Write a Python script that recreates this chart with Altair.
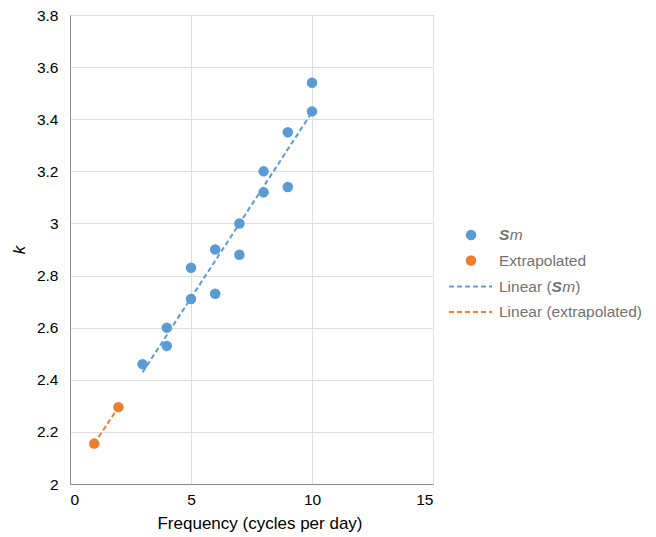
import altair as alt
import pandas as pd

# Data
sm_x = [3, 4, 4, 5, 5, 6, 6, 7, 7, 8, 8, 9, 9, 10, 10]
sm_k = [2.46, 2.60, 2.53, 2.83, 2.71, 2.90, 2.73, 3.00, 2.88, 3.20, 3.12, 3.35, 3.14, 3.54, 3.43]
ex_x = [1, 2]
ex_k = [2.155, 2.295]

x_ticks = [0, 5, 10, 15]
y_ticks = [2, 2.2, 2.4, 2.6, 2.8, 3, 3.2, 3.4, 3.6, 3.8]

BLUE = "#5b9bd5"
ORANGE = "#ed7d31"
GRAY = "#727272"
GRID = "#d9d9d9"
FONT = "Liberation Sans"

sm_df = pd.DataFrame({"x": sm_x, "k": sm_k})
ex_df = pd.DataFrame({"x": ex_x, "k": ex_k})

xs = alt.Scale(domain=[0, 15], nice=False, zero=False)
ys = alt.Scale(domain=[2, 3.8], nice=False, zero=False)

x_axis = alt.Axis(values=x_ticks, title="Frequency (cycles per day)", grid=True,
                  labelFontSize=15.5, titleFontSize=17, titleFontWeight="normal",
                  labelPadding=8, titlePadding=8, ticks=False,
                  titleX=189.5, titleAlign="center")
y_axis = alt.Axis(values=y_ticks, title="k", grid=True, labelFontSize=15.5,
                  titleFontSize=17, titleFontStyle="italic", titleFontWeight="normal",
                  labelPadding=12, titlePadding=8, ticks=False,
                  labelExpr="format(datum.value, '.1~f')")

X = alt.X("x:Q", scale=xs, axis=x_axis)
Y = alt.Y("k:Q", scale=ys, axis=y_axis)

sm_line = alt.Chart(sm_df).transform_regression("x", "k", extent=[3, 10]).mark_line(
    color=BLUE, strokeWidth=2, strokeDash=[5, 3]).encode(x=X, y=Y)
ex_line = alt.Chart(ex_df).transform_regression("x", "k", extent=[1, 2]).mark_line(
    color=ORANGE, strokeWidth=2, strokeDash=[5, 3]).encode(x=X, y=Y)
sm_pts = alt.Chart(sm_df).mark_circle(size=110, color=BLUE, opacity=1).encode(x=X, y=Y)
ex_pts = alt.Chart(ex_df).mark_circle(size=110, color=ORANGE, opacity=1).encode(x=X, y=Y)

# Custom legend (plot-area pixel coordinates; plot origin at 70px, 15px)
one = pd.DataFrame({"a": [0]})
L = 70
T = 15
FS = 15.5
def txt(s, x, y, style="normal", weight="normal"):
    return alt.Chart(one).mark_text(text=s, align="left", baseline="middle", fontSize=FS,
                                    font=FONT, color=GRAY, fontStyle=style,
                                    fontWeight=weight).encode(x=alt.value(x - L), y=alt.value(y - T))

leg = [
    alt.Chart(one).mark_circle(size=110, color=BLUE, opacity=1).encode(
        x=alt.value(471 - L), y=alt.value(235 - T)),
    alt.Chart(one).mark_circle(size=110, color=ORANGE, opacity=1).encode(
        x=alt.value(471 - L), y=alt.value(260.5 - T)),
    alt.Chart(one).mark_rule(color=BLUE, strokeWidth=2, strokeDash=[5, 3]).encode(
        x=alt.value(449 - L), x2=alt.value(492 - L), y=alt.value(286.5 - T)),
    alt.Chart(one).mark_rule(color=ORANGE, strokeWidth=2, strokeDash=[5, 3]).encode(
        x=alt.value(449 - L), x2=alt.value(492 - L), y=alt.value(312 - T)),
    txt("S", 499, 235, "italic", "bold"),
    txt("m", 509.8, 235, "italic"),
    txt("Extrapolated", 499, 260.5),
    txt("Linear (", 499, 286.5),
    txt("S", 551.5, 286.5, "italic", "bold"),
    txt("m", 562.3, 286.5, "italic"),
    txt(")", 575.3, 286.5),
    txt("Linear (extrapolated)", 499, 312),
]

chart = alt.layer(sm_line, ex_line, sm_pts, ex_pts, *leg).properties(
    width=363, height=469,
    autosize=alt.AutoSizeParams(type="none"),
    padding={"left": 70, "top": 15, "right": 223, "bottom": 53},
).configure_view(stroke=None).configure_axis(
    labelColor=GRAY, titleColor=GRAY, gridColor=GRID, domainColor=GRID,
    labelFont=FONT, titleFont=FONT, titleFontWeight="normal",
).configure(background="white")

chart.save("out.html", embed_options={"renderer": "svg", "actions": False})
